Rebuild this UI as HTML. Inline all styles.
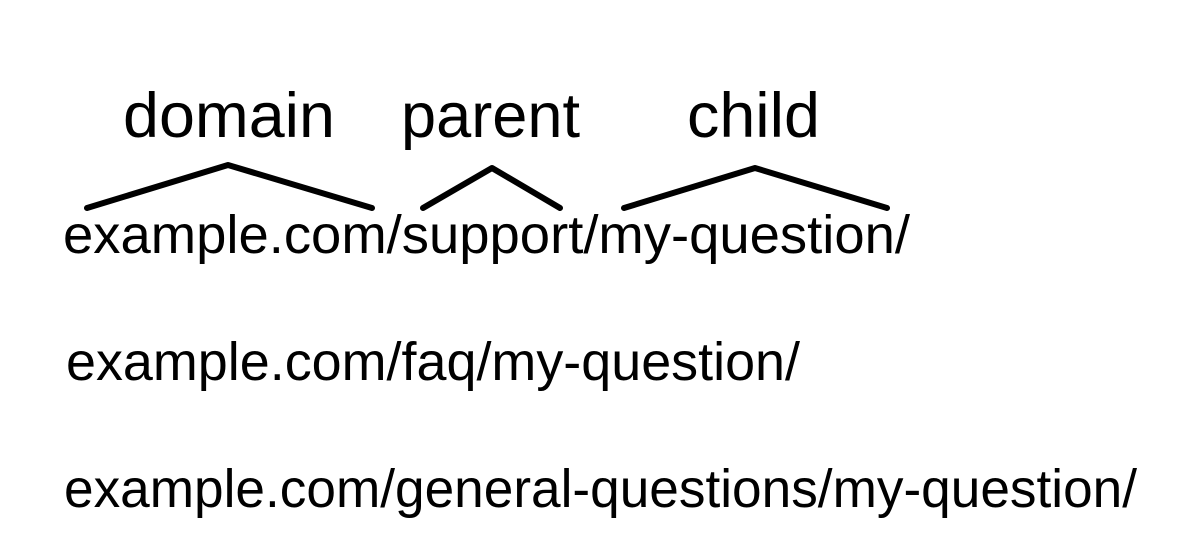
<!DOCTYPE html>
<html><head><meta charset="utf-8"><style>
html,body{margin:0;padding:0;background:#fff;}
body{width:1185px;height:555px;overflow:hidden;}
svg text{font-family:"Liberation Sans",Arial,sans-serif;fill:#000;}
</style></head><body>
<svg width="1185" height="555" viewBox="0 0 1185 555" xmlns="http://www.w3.org/2000/svg">
<text x="123" y="137" font-size="63" textLength="212" lengthAdjust="spacingAndGlyphs">domain</text>
<text x="401" y="137" font-size="63" textLength="179" lengthAdjust="spacingAndGlyphs">parent</text>
<text x="687" y="137" font-size="63" textLength="133" lengthAdjust="spacingAndGlyphs">child</text>
<g fill="none" stroke="#000" stroke-width="6" stroke-linecap="round" stroke-linejoin="round">
<polyline points="87,208 228,165 372,208"/>
<polyline points="423,208 492,168 560,208"/>
<polyline points="624,208 755,168 887,208"/>
</g>
<text x="63" y="253" font-size="54" textLength="847" lengthAdjust="spacingAndGlyphs">example.com/support/my-question/</text>
<text x="66" y="380" font-size="54" textLength="734" lengthAdjust="spacingAndGlyphs">example.com/faq/my-question/</text>
<text x="64" y="507" font-size="54" textLength="1073" lengthAdjust="spacingAndGlyphs">example.com/general-questions/my-question/</text>
</svg>
</body></html>
